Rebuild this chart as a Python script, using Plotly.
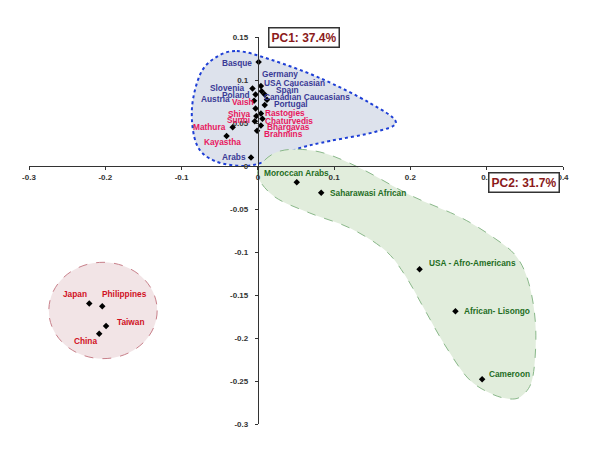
import plotly.graph_objects as go

# ---------------- data ----------------
euro_names = ["Basque", "Germany", "USA Caucasian", "Slovenia", "Spain", "Poland",
              "Canadian Caucasians", "Austria", "Portugal", "Arabs"]
euro_x = [0.001, 0.004, 0.005, -0.007, 0.009, -0.003, 0.012, -0.005, 0.009, -0.009]
euro_y = [0.121, 0.093, 0.087, 0.090, 0.083, 0.083, 0.077, 0.076, 0.071, 0.010]

india_names = ["Vaish", "Rastogies", "Shiya", "Chaturvedis", "Sunni", "Mathura",
               "Bhargavas", "Brahmins", "Kayastha"]
india_x = [-0.003, 0.004, -0.002, 0.006, -0.004, -0.033, 0.004, -0.001, -0.041]
india_y = [0.067, 0.061, 0.058, 0.055, 0.052, 0.045, 0.047, 0.041, 0.035]

africa_names = ["Moroccan Arabs", "Saharawasi African", "USA - Afro-Americans",
                "African- Lisongo", "Cameroon"]
africa_x = [0.051, 0.083, 0.212, 0.259, 0.294]
africa_y = [-0.019, -0.031, -0.120, -0.169, -0.248]

asia_names = ["Japan", "Philippines", "Taiwan", "China"]
asia_x = [-0.221, -0.204, -0.199, -0.208]
asia_y = [-0.160, -0.163, -0.186, -0.195]

x_ticks = [-0.3, -0.2, -0.1, 0, 0.1, 0.2, 0.3, 0.4]
x_ticktext = ["-0.3", "-0.2", "-0.1", "0", "0.1", "0.2", "0.3", "0.4"]
y_ticks = [0.15, 0.1, 0.05, 0, -0.05, -0.1, -0.15, -0.2, -0.25, -0.3]
y_ticktext = ["0.15", "0.1", "0.05", "0", "-0.05", "-0.1", "-0.15", "-0.2", "-0.25", "-0.3"]

pc1_text = "PC1: 37.4%"
pc2_text = "PC2: 31.7%"

# ---------------- label placement (xanchor, xshift px, yshift px) ----------------
label_pos = {
    "Basque": ("right", -5, -1),
    "Germany": ("left", -1, 12),
    "USA Caucasian": ("left", 0, 8),
    "Slovenia": ("right", -6, 1),
    "Spain": ("left", 9, 5),
    "Poland": ("right", -4, 0),
    "Canadian Caucasians": ("left", -5, 3),
    "Austria": ("right", -22, 2),
    "Portugal": ("left", 7, 1),
    "Arabs": ("right", -3, 0),
    "Vaish": ("right", 0, 6),
    "Rastogies": ("left", 2, 1),
    "Shiya": ("right", -3, 2),
    "Chaturvedis": ("left", 1, -2),
    "Sunni": ("right", -3, 1),
    "Mathura": ("right", -5, 0),
    "Bhargavas": ("left", 4, -1),
    "Brahmins": ("left", 5, -3),
    "Kayastha": ("center", -4, -6),
    "Moroccan Arabs": ("center", 0, 9),
    "Saharawasi African": ("left", 7, 0),
    "USA - Afro-Americans": ("left", 7, 6),
    "African- Lisongo": ("left", 7, 0),
    "Cameroon": ("left", 5, 5),
    "Japan": ("center", -14, 10),
    "Philippines": ("center", 22, 12),
    "Taiwan": ("left", 9, 4),
    "China": ("center", -14, -7),
}

# ---------------- blob outlines (data coords) ----------------
blue_blob = [(-0.0275, 0.1337), (0.0183, 0.1233), (0.0813, 0.1023), (0.1468, 0.0733),
             (0.1809, 0.0512), (0.1533, 0.0395), (0.0944, 0.0291), (0.0551, 0.0209),
             (0.0157, 0.0070), (-0.0170, 0.0), (-0.0564, 0.0058), (-0.0799, 0.0244),
             (-0.0865, 0.0651), (-0.0760, 0.1058), (-0.0564, 0.1256)]
green_blob = [(0, -0.0116), (0.0092, 0.0070), (0.0354, 0.0186), (0.0813, 0.0163),
              (0.1337, -0.0023), (0.1992, -0.0337), (0.2647, -0.0593), (0.3080, -0.0826),
              (0.3394, -0.1058), (0.3565, -0.1407), (0.3643, -0.1907), (0.3604, -0.2453),
              (0.3473, -0.2663), (0.3303, -0.2709), (0.3041, -0.2640), (0.2752, -0.2465),
              (0.2451, -0.2081), (0.2189, -0.1674), (0.1927, -0.1267), (0.1664, -0.0977),
              (0.1206, -0.0721), (0.0682, -0.0547), (0.0223, -0.0360)]
asia_ellipse = (-0.274, -0.224, -0.132, -0.112)


def closed_spline(pts, t=0.5):
    n = len(pts)
    s = "M %f,%f" % pts[0]
    for i in range(n):
        p0 = pts[(i - 1) % n]
        p1 = pts[i]
        p2 = pts[(i + 1) % n]
        p3 = pts[(i + 2) % n]
        c1 = (p1[0] + (p2[0] - p0[0]) * t / 3, p1[1] + (p2[1] - p0[1]) * t / 3)
        c2 = (p2[0] - (p3[0] - p1[0]) * t / 3, p2[1] - (p3[1] - p1[1]) * t / 3)
        s += " C %f,%f %f,%f %f,%f" % (c1 + c2 + p2)
    return s + " Z"


BLUE = "#3a3a96"
PINK = "#e8185e"
GREEN = "#1f6e1f"
RED = "#d0101e"
FONT = "Liberation Sans, Arial, sans-serif"
LABEL_SIZE = 8.3

fig = go.Figure()

shapes = [
    dict(type="path", xref="x", yref="y", path=closed_spline(blue_blob),
         fillcolor="#dde2ec", line=dict(color="#1e3fd6", width=2, dash="dot"), layer="below"),
    dict(type="path", xref="x", yref="y", path=closed_spline(green_blob),
         fillcolor="#e1eddc", line=dict(color="#8ab88a", width=1, dash="dash"), layer="below"),
    dict(type="circle", xref="x", yref="y", x0=asia_ellipse[0], y0=asia_ellipse[1],
         x1=asia_ellipse[2], y1=asia_ellipse[3],
         fillcolor="#f2e4e6", line=dict(color="#c8808a", width=1, dash="dash"), layer="below"),
]

all_x = euro_x + india_x + africa_x + asia_x
all_y = euro_y + india_y + africa_y + asia_y
fig.add_trace(go.Scatter(x=all_x, y=all_y, mode="markers",
                         marker=dict(symbol="diamond", size=5, color="black"),
                         hoverinfo="skip", showlegend=False))

annotations = []
groups = [(euro_names, euro_x, euro_y, BLUE), (india_names, india_x, india_y, PINK),
          (africa_names, africa_x, africa_y, GREEN), (asia_names, asia_x, asia_y, RED)]
for names, xs, ys, col in groups:
    for n, x, y in zip(names, xs, ys):
        xa, dx, dy = label_pos[n]
        annotations.append(dict(x=x, y=y, xref="x", yref="y", text=n, showarrow=False,
                                xanchor=xa, yanchor="middle", xshift=dx, yshift=dy,
                                font=dict(family=FONT, size=LABEL_SIZE, color=col, weight="bold")))

for txt, px, py in [(pc1_text, 0.515, 0.999), (pc2_text, 0.927, 0.625)]:
    annotations.append(dict(x=px, y=py, xref="paper", yref="paper", text=txt, showarrow=False,
                            xanchor="center", yanchor="middle",
                            font=dict(family=FONT, size=12, color="#8b1a1a", weight="bold"),
                            bgcolor="white", bordercolor="#333333", borderwidth=1.5, borderpad=2))

tickfont = dict(family=FONT, size=8, color="#333333", weight="bold")
fig.update_layout(
    width=592, height=442,
    margin=dict(l=21, r=37, t=29, b=26),
    paper_bgcolor="white", plot_bgcolor="white",
    shapes=shapes, annotations=annotations,
    xaxis=dict(range=[-0.3, 0.4], anchor="free", position=2 / 3, showgrid=False,
               zeroline=False, showline=True, linecolor="#333333", linewidth=1,
               ticks="outside", ticklen=3, tickcolor="#333333",
               tickvals=x_ticks, ticktext=x_ticktext, tickfont=tickfont),
    yaxis=dict(range=[-0.3, 0.15], anchor="free", position=3 / 7, showgrid=False,
               zeroline=False, showline=True, linecolor="#333333", linewidth=1,
               ticks="outside", ticklen=3, tickcolor="#333333", ticklabelstandoff=5,
               tickvals=y_ticks, ticktext=y_ticktext, tickfont=tickfont),
)

fig.write_html("out.html")
